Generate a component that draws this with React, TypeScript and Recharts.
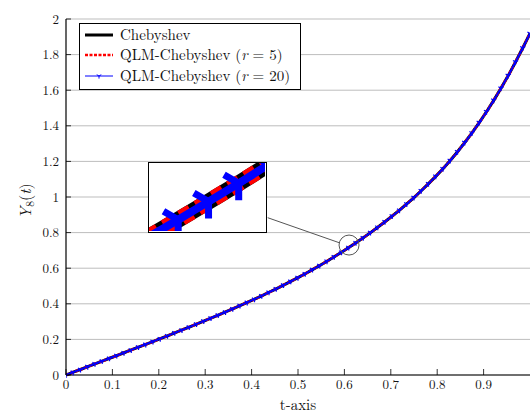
import { CartesianGrid, Line, LineChart, ReferenceDot, ReferenceLine, XAxis, YAxis } from "recharts";

// t samples (65 points on [0, 1])
const tValues = [
  0, 0.0156, 0.0313, 0.0469, 0.0625, 0.0781, 0.0938, 0.1094, 0.125, 0.1406, 0.1563, 0.1719, 0.1875,
  0.2031, 0.2188, 0.2344, 0.25, 0.2656, 0.2813, 0.2969, 0.3125, 0.3281, 0.3438, 0.3594, 0.375, 0.3906,
  0.4063, 0.4219, 0.4375, 0.4531, 0.4688, 0.4844, 0.5, 0.5156, 0.5313, 0.5469, 0.5625, 0.5781, 0.5938,
  0.6094, 0.625, 0.6406, 0.6563, 0.6719, 0.6875, 0.7031, 0.7188, 0.7344, 0.75, 0.7656, 0.7813, 0.7969,
  0.8125, 0.8281, 0.8438, 0.8594, 0.875, 0.8906, 0.9063, 0.9219, 0.9375, 0.9531, 0.9688, 0.9844, 1,
];

// Y_8(t) (the three solutions overlap)
const y8Values = [
  0, 0.016, 0.031, 0.047, 0.063, 0.078, 0.094, 0.109, 0.125, 0.141, 0.157, 0.172, 0.188,
  0.204, 0.22, 0.237, 0.253, 0.269, 0.286, 0.303, 0.32, 0.337, 0.354, 0.372, 0.39, 0.408,
  0.426, 0.445, 0.465, 0.484, 0.505, 0.526, 0.547, 0.569, 0.592, 0.615, 0.639, 0.664, 0.69,
  0.716, 0.743, 0.771, 0.8, 0.83, 0.861, 0.893, 0.926, 0.961, 0.997, 1.035, 1.075, 1.116,
  1.159, 1.205, 1.254, 1.306, 1.36, 1.418, 1.479, 1.543, 1.611, 1.682, 1.758, 1.837, 1.919,
];

const xTicks = [0, 0.1, 0.2, 0.3, 0.4, 0.5, 0.6, 0.7, 0.8, 0.9];
const yTicks = [0, 0.2, 0.4, 0.6, 0.8, 1, 1.2, 1.4, 1.6, 1.8, 2];

const SERIES_NAMES = ["Chebyshev", "QLM-Chebyshev", "QLM-Chebyshev"];
const SERIES_R = [null, 5, 20];

// spy annotation (data coords)
const SPY_CENTER = { t: 0.61, y: 0.73 };
const SPY_LINK = [
  { x: 0.4347, y: 0.8837 },
  { x: 0.589, y: 0.743 },
];
const INSET_X = [0.563, 0.623];
const INSET_Y = [0.648, 0.745];

const BLACK = "#000000";
const RED = "#ff0000";
const BLUE = "#0000ff";
const TEXT = "#111111";
const FONT = "'Latin Modern Roman', 'Liberation Serif', serif";

const data = tValues.map((t, i) => ({
  t,
  cheb: y8Values[i],
  qlm5: y8Values[i],
  qlm20: y8Values[i],
}));

const triPath = (cx: number, cy: number, a: number) =>
  `M${cx - a * 0.866},${cy - a * 0.5}L${cx},${cy}L${cx + a * 0.866},${cy - a * 0.5}M${cx},${cy}L${cx},${cy + a}`;

const makeTri = (a: number, w: number) => (props: any) => {
  const { cx, cy, index } = props;
  if (!Number.isFinite(cx) || !Number.isFinite(cy)) return <g key={`m${index}`} />;
  return <path key={`m${index}`} d={triPath(cx, cy, a)} stroke={BLUE} strokeWidth={w} fill="none" />;
};

const BottomTick = (props: any) => {
  const { x, y, payload } = props;
  return (
    <g>
      <line x1={x} x2={x} y1={y} y2={y - 6} stroke={BLACK} strokeWidth={0.8} />
      <text x={x} y={y + 14} textAnchor="middle" fontSize={13} style={{ fontFamily: FONT }} fill={TEXT}>
        {payload.value}
      </text>
    </g>
  );
};

const TopTick = (props: any) => {
  const { x, y } = props;
  return <line x1={x} x2={x} y1={y} y2={y + 6} stroke={BLACK} strokeWidth={0.8} />;
};

const LeftTick = (props: any) => {
  const { x, y, payload } = props;
  return (
    <g>
      <line x1={x} x2={x + 5} y1={y} y2={y} stroke={BLACK} strokeWidth={0.8} />
      <text x={x - 7} y={y + 4.5} textAnchor="end" fontSize={13} style={{ fontFamily: FONT }} fill={TEXT}>
        {payload.value}
      </text>
    </g>
  );
};

function LegendBox() {
  const rows = [12, 32, 53];
  return (
    <svg width={222} height={67} style={{ position: "absolute", left: 79, top: 23 }}>
      <rect x={0.5} y={0.5} width={221} height={66} fill="#fff" stroke={BLACK} strokeWidth={1} />
      <line x1={6} x2={34} y1={rows[0]} y2={rows[0]} stroke={BLACK} strokeWidth={3} />
      <line x1={6} x2={34} y1={rows[1]} y2={rows[1]} stroke={RED} strokeWidth={2.5} strokeDasharray="3 1.5" />
      <line x1={6} x2={34} y1={rows[2]} y2={rows[2]} stroke={BLUE} strokeWidth={1} />
      <path d={triPath(20, rows[2], 2.6)} stroke={BLUE} strokeWidth={1} fill="none" />
      {SERIES_NAMES.map((name, i) => (
        <text key={i} x={41} y={rows[i] + 5} fontSize={15} style={{ fontFamily: FONT }} fill={TEXT}>
          {name}
          {SERIES_R[i] !== null && (
            <>
              {" ("}
              <tspan fontStyle="italic">r</tspan>
              {` = ${SERIES_R[i]})`}
            </>
          )}
        </text>
      ))}
    </svg>
  );
}

function Inset() {
  return (
    <div
      style={{
        position: "absolute",
        left: 148,
        top: 162,
        width: 119,
        height: 71,
        border: "1.5px solid #000",
        boxSizing: "border-box",
        background: "#fff",
        overflow: "hidden",
      }}
    >
      <LineChart width={116} height={68} data={data} margin={{ top: 0, right: 0, bottom: 0, left: 0 }}>
        <XAxis dataKey="t" type="number" domain={INSET_X} allowDataOverflow hide />
        <YAxis type="number" domain={INSET_Y} allowDataOverflow hide />
        <Line dataKey="cheb" stroke={BLACK} strokeWidth={16} dot={false} isAnimationActive={false} />
        <Line
          dataKey="qlm5"
          stroke={RED}
          strokeWidth={16}
          strokeDasharray="12 7"
          dot={false}
          isAnimationActive={false}
        />
        <Line
          dataKey="qlm20"
          stroke={BLUE}
          strokeWidth={8}
          dot={makeTri(17, 7)}
          isAnimationActive={false}
        />
      </LineChart>
    </div>
  );
}

export default function App() {
  return (
    <div
      style={{
        position: "absolute",
        left: 0,
        top: 0,
        width: 530,
        height: 413,
        overflow: "hidden",
        background: "#fff",
        fontFamily: FONT,
      }}
    >
      <LineChart width={540} height={413} data={data} margin={{ top: 19, right: 10, bottom: 8, left: 0 }}>
        <CartesianGrid vertical={false} stroke="#bdbdbd" strokeWidth={1} />
        <XAxis
          dataKey="t"
          type="number"
          domain={[0, 1]}
          ticks={xTicks}
          allowDataOverflow
          height={30}
          tickSize={0}
          tickMargin={0}
          tickLine={false}
          tick={<BottomTick />}
          axisLine={{ stroke: BLACK, strokeWidth: 1.2 }}
          interval={0}
        />
        <XAxis
          xAxisId="top"
          orientation="top"
          dataKey="t"
          type="number"
          domain={[0, 1]}
          ticks={xTicks}
          allowDataOverflow
          height={0}
          tickSize={0}
          tickMargin={0}
          tickLine={false}
          tick={<TopTick />}
          axisLine={{ stroke: BLACK, strokeWidth: 1.2 }}
          interval={0}
        />
        <YAxis
          type="number"
          domain={[0, 2]}
          ticks={yTicks}
          width={66}
          tickSize={0}
          tickMargin={0}
          tickLine={false}
          tick={<LeftTick />}
          axisLine={{ stroke: BLACK, strokeWidth: 1.2 }}
          interval={0}
        />
        <ReferenceLine segment={SPY_LINK} stroke="#555" strokeWidth={1} ifOverflow="visible" />
        <Line dataKey="cheb" stroke={BLACK} strokeWidth={3} dot={false} isAnimationActive={false} />
        <Line
          dataKey="qlm5"
          stroke={RED}
          strokeWidth={2.8}
          strokeDasharray="3 2"
          dot={false}
          isAnimationActive={false}
        />
        <Line
          dataKey="qlm20"
          stroke={BLUE}
          strokeWidth={2}
          dot={makeTri(3, 1.2)}
          isAnimationActive={false}
        />
        <ReferenceDot
          x={SPY_CENTER.t}
          y={SPY_CENTER.y}
          r={10}
          fill="none"
          stroke="#555"
          strokeWidth={1}
          ifOverflow="visible"
        />
      </LineChart>
      <LegendBox />
      <Inset />
      <svg width={530} height={413} style={{ position: "absolute", left: 0, top: 0, pointerEvents: "none" }}>
        <text x={298} y={410} textAnchor="middle" fontSize={15} style={{ fontFamily: FONT }} fill={TEXT}>
          t-axis
        </text>
        <text
          transform="translate(31, 201) rotate(-90)"
          textAnchor="middle"
          fontSize={16}
          style={{ fontFamily: FONT }}
          fill={TEXT}
        >
          <tspan fontStyle="italic">Y</tspan>
          <tspan fontSize={11.5} dy={3}>8</tspan>
          <tspan dy={-3}>(</tspan>
          <tspan fontStyle="italic">t</tspan>
          <tspan>)</tspan>
        </text>
      </svg>
    </div>
  );
}
